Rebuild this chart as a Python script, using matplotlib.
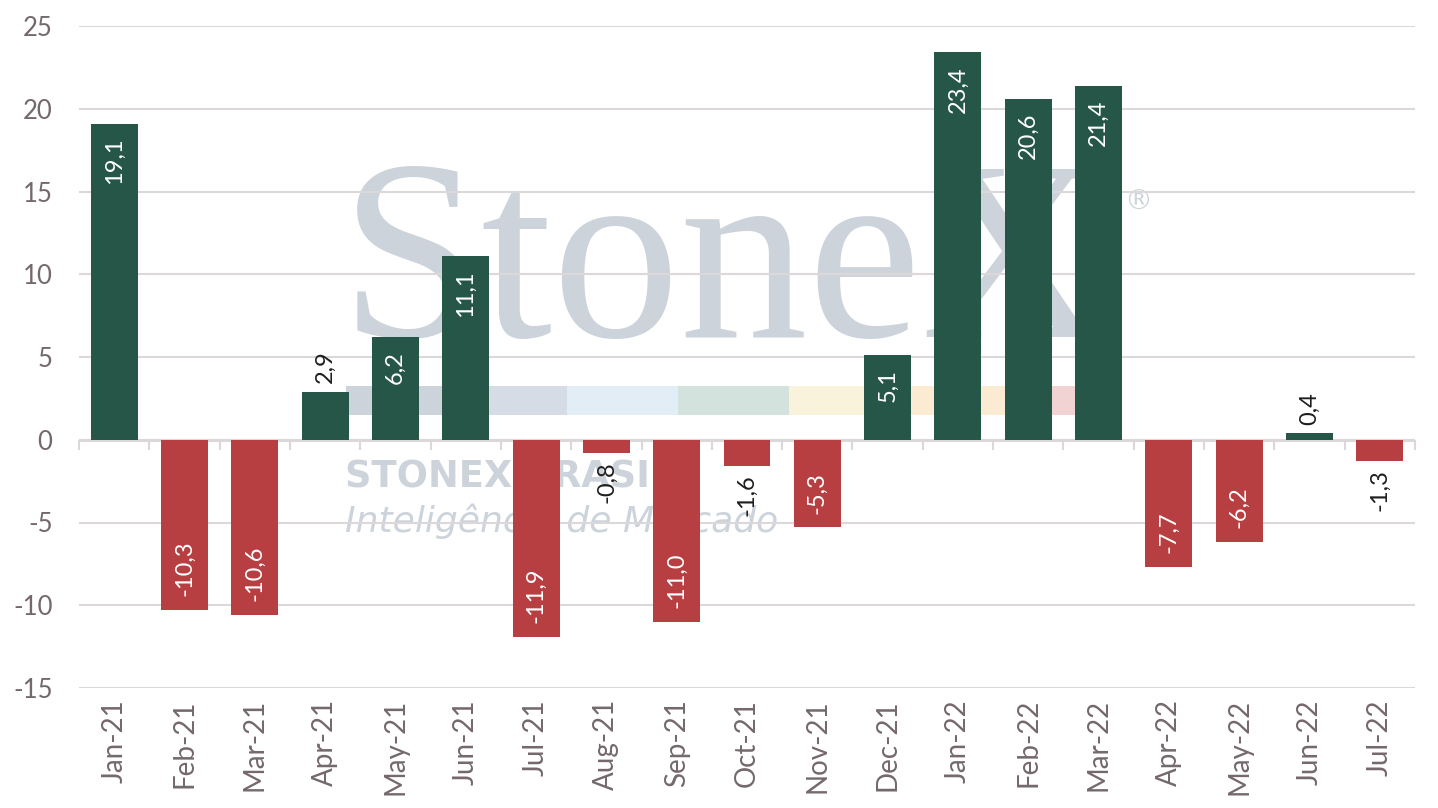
import matplotlib
matplotlib.use("Agg")
import matplotlib.pyplot as plt
from matplotlib.patches import Rectangle
import numpy as np

months = ["Jan-21", "Feb-21", "Mar-21", "Apr-21", "May-21", "Jun-21", "Jul-21",
          "Aug-21", "Sep-21", "Oct-21", "Nov-21", "Dec-21", "Jan-22", "Feb-22",
          "Mar-22", "Apr-22", "May-22", "Jun-22", "Jul-22"]
values = [19.1, -10.3, -10.6, 2.9, 6.2, 11.1, -11.9, -0.8, -11.0, -1.6, -5.3,
          5.1, 23.4, 20.6, 21.4, -7.7, -6.2, 0.4, -1.3]
yticks = [-15, -10, -5, 0, 5, 10, 15, 20, 25]

GREEN = "#265647"
RED = "#B73E41"
GRID = "#DCD7D9"
TICKC = "#74686C"
WM = "#CCD3DA"
FONT = "Lato"

W, H = 1438, 808
fig = plt.figure(figsize=(W / 100, H / 100), dpi=100)
ax = fig.add_axes([79 / W, 1 - 688 / H, (1415 - 79) / W, (688 - 26) / H])


def fx(px):
    return px / W


def fy(py):
    return 1 - py / H


# ---- watermark (behind the axes, which is transparent) ----
WZ = -5
fig.text(fx(340), fy(337), "StoneX", fontsize=184, family="Liberation Serif",
         color=WM, ha="left", va="baseline", zorder=WZ)
fig.text(fx(1124), fy(210), "®", fontsize=20, family="DejaVu Sans",
         color=WM, ha="left", va="baseline", zorder=WZ)
band_cols = ["#CCD3DA", "#D5DCE6", "#E3EDF5", "#D3E2DC", "#F8F3DA", "#FBEBD2", "#F1D3D3"]
seg = (1121 - 346) / len(band_cols)
for i, c in enumerate(band_cols):
    fig.patches.append(Rectangle((fx(346 + i * seg), fy(415)), seg / W, 29 / H,
                                 transform=fig.transFigure, color=c, zorder=WZ, lw=0))
fig.text(fx(345), fy(487), "STONEX BRASIL", fontsize=26.5, family="DejaVu Sans", weight="bold",
         color=WM, ha="left", va="baseline", zorder=WZ)
fig.text(fx(345), fy(532), "Inteligência de Mercado", fontsize=26, family="DejaVu Sans",
         style="oblique", weight="normal", color=WM, ha="left", va="baseline", zorder=WZ)

ax.set_facecolor("none")
fig.patch.set_facecolor("white")

x = np.arange(len(months))
colors = [GREEN if v >= 0 else RED for v in values]
ax.bar(x, values, width=0.667, color=colors, zorder=3)

ax.set_xlim(-0.5, len(months) - 0.5)
ax.set_ylim(-15, 25)
ax.set_yticks(yticks)
ax.set_yticklabels([str(t) for t in yticks])
ax.yaxis.grid(True, color=GRID, lw=1.5, zorder=1)
ax.set_axisbelow(True)
for s in ax.spines.values():
    s.set_visible(False)
ax.tick_params(axis="y", length=0, pad=19, labelsize=18.5, labelcolor=TICKC)
ax.set_xticks(x)
ax.set_xticklabels(months, rotation=90, fontsize=20, color=TICKC, family=FONT)
ax.tick_params(axis="x", length=0, pad=8)
for lab in ax.get_yticklabels():
    lab.set_family(FONT)

ax.axhline(0, color=GRID, lw=2.2, zorder=2)
sec = ax.secondary_xaxis(15 / 40)
sec.set_xticks(np.arange(-0.5, len(months), 1.0))
sec.set_xticklabels([])
sec.tick_params(axis="x", length=7, width=1.5, color=GRID, direction="out")
sec.spines["bottom"].set_visible(False)

# ---- value labels ----
for xi, v in zip(x, values):
    txt = f"{v:.1f}".replace(".", ",")
    inside = abs(v) >= 4
    sign = 1 if v >= 0 else -1
    if inside:
        off, va, col = -10 * sign, ("top" if v >= 0 else "bottom"), "white"
    else:
        off, va, col = 6 * sign, ("bottom" if v >= 0 else "top"), "#1E1E1E"
    ax.annotate(txt, (xi, v), xytext=(0, off), textcoords="offset points",
                ha="center", va=va, rotation=90, color=col,
                fontsize=17, family=FONT, zorder=4)

fig.savefig("out.png", dpi=100)
